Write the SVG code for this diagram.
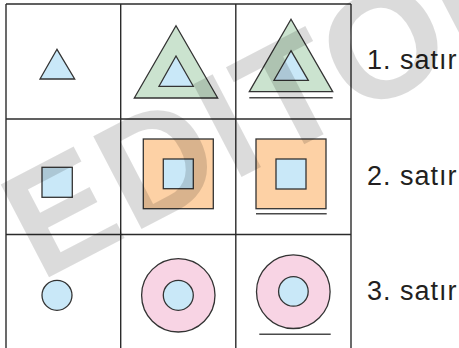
<svg xmlns="http://www.w3.org/2000/svg" width="459" height="348" viewBox="0 0 459 348">
<style>
.grid{stroke:#2b2b2b;stroke-width:1.4;fill:none}
.sh{stroke:#333;stroke-width:1.3;stroke-linejoin:miter}
.blue{fill:#c9e8f8}
.green{fill:#cbe3cf}
.orange{fill:#fdd1a5}
.pink{fill:#f8d4e4}
.ul{stroke:#4a4a4a;stroke-width:1.6}
.lbl{font-family:"Liberation Sans",Arial,sans-serif;font-size:27px;fill:#231f20;letter-spacing:1px}
.wm{font-family:"Liberation Sans",Arial,sans-serif;font-weight:bold;font-size:152px;fill:#000;fill-opacity:0.14;letter-spacing:3px}
</style>
<rect width="459" height="348" fill="#fff"/>
<g id="grid" class="grid">
<line x1="6" y1="4" x2="351" y2="4"/>
<line x1="6" y1="119" x2="351" y2="119"/>
<line x1="6" y1="234.5" x2="351" y2="234.5"/>
<line x1="6" y1="4" x2="6" y2="350"/>
<line x1="120.7" y1="4" x2="120.7" y2="350"/>
<line x1="235.8" y1="4" x2="235.8" y2="350"/>
<line x1="351" y1="4" x2="351" y2="350"/>
</g>
<g id="r1c1"><polygon class="sh blue" points="57,49.3 74.7,79 40,79"/></g>
<g id="r1c2">
<polygon class="sh green" points="176,25.7 217.7,98 134.3,98"/>
<polygon class="sh blue" points="176,56 193.3,86.3 159,86.3"/>
</g>
<g id="r1c3">
<polygon class="sh green" points="291,19.3 332.7,91.7 249.3,91.7"/>
<polygon class="sh blue" points="291,50.7 308.3,80.3 274,80.3"/>
<line class="ul" x1="249.3" y1="97.7" x2="332.7" y2="97.7"/>
</g>
<g id="r2c1"><rect class="sh blue" x="42" y="167.3" width="30.3" height="30"/></g>
<g id="r2c2">
<rect class="sh orange" x="143.3" y="139" width="70" height="69.7"/>
<rect class="sh blue" x="163.3" y="159" width="30" height="29.7"/>
</g>
<g id="r2c3">
<rect class="sh orange" x="256" y="139" width="70" height="69.7"/>
<rect class="sh blue" x="276" y="159" width="30" height="30"/>
<line class="ul" x1="256" y1="213.7" x2="326.7" y2="213.7"/>
</g>
<g id="r3c1"><circle class="sh blue" cx="57" cy="295.3" r="15"/></g>
<g id="r3c2">
<circle class="sh pink" cx="178.3" cy="295.3" r="36.7"/>
<circle class="sh blue" cx="178.3" cy="295.3" r="15"/>
</g>
<g id="r3c3">
<circle class="sh pink" cx="293.3" cy="291.7" r="36.8"/>
<circle class="sh blue" cx="293.4" cy="291.4" r="14.8"/>
<line class="ul" x1="259.3" y1="334.3" x2="330.7" y2="334.3"/>
</g>
<g id="labels">
<text class="lbl" x="367" y="69">1. satır</text>
<text class="lbl" x="367" y="184.5">2. satır</text>
<text class="lbl" x="367" y="300">3. satır</text>
</g>
<text class="wm" transform="translate(40,282) rotate(-27.5)">EDITOR</text>
</svg>
